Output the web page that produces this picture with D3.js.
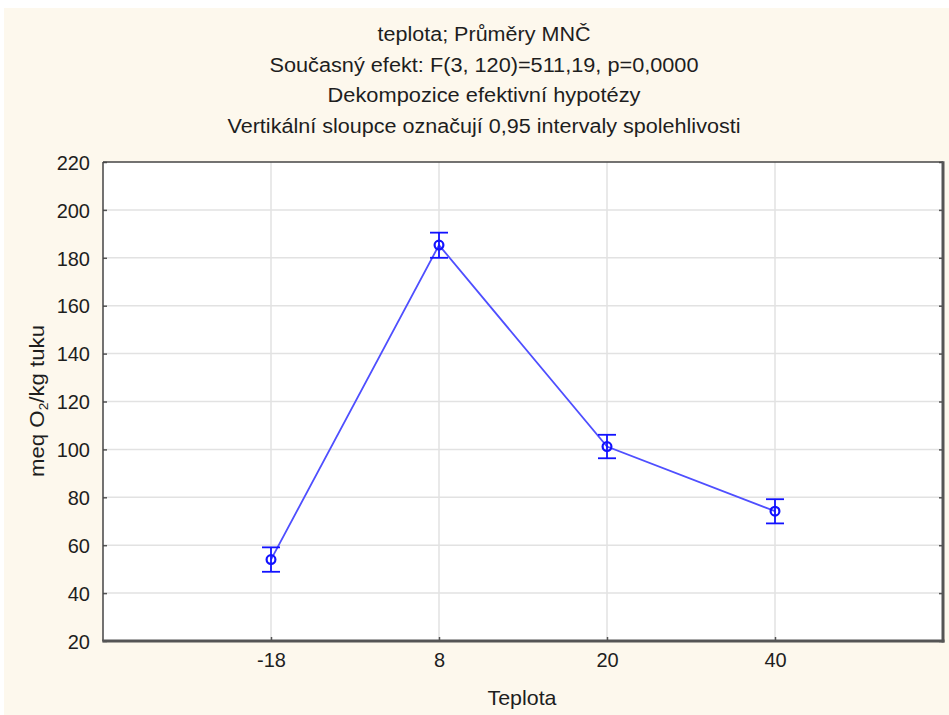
<!DOCTYPE html>
<html>
<head>
<meta charset="utf-8">
<script src="https://cdn.jsdelivr.net/npm/d3@7"></script>
<style>
  html, body { margin: 0; padding: 0; background: #ffffff; }
  svg { display: block; }
  text { font-family: "Liberation Sans", Arial, sans-serif; fill: #1e1e1e; }
</style>
</head>
<body>
<svg id="chart" width="949" height="715"></svg>
<script>
// Temperature groups and least-squares means with 0.95 confidence limits
const categories = ["-18", "8", "20", "40"];
const means = [54.0, 185.3, 101.2, 74.2];
const ciLower = [48.9, 180.0, 96.3, 69.1];
const ciUpper = [59.1, 190.5, 106.1, 79.2];
const yTicks = [20, 40, 60, 80, 100, 120, 140, 160, 180, 200, 220];
const titleLines = [
  "teplota; Průměry MNČ",
  "Současný efekt: F(3, 120)=511,19, p=0,0000",
  "Dekompozice efektivní hypotézy",
  "Vertikální sloupce označují 0,95 intervaly spolehlivosti"
];
// Rendered widths of the title lines (px)
const titleWidths = [213, 429, 313, 513];

const svg = d3.select("#chart");
const W = 949, H = 715;
const plot = { left: 103, top: 162, right: 943, bottom: 641 };

// Cream page background
svg.append("rect").attr("x", 4).attr("y", 8).attr("width", W - 4).attr("height", H - 8)
  .attr("fill", "#fdf8ed");

// Plot area
svg.append("rect").attr("x", plot.left).attr("y", plot.top)
  .attr("width", plot.right - plot.left).attr("height", plot.bottom - plot.top)
  .attr("fill", "#ffffff");

const x = d3.scalePoint().domain(categories).range([plot.left, plot.right]).padding(1);
const y = d3.scaleLinear().domain([20, 220]).range([plot.bottom, plot.top]);

// Grid lines
const grid = svg.append("g").attr("stroke", "#e2e2e2").attr("stroke-width", 1.5);
grid.selectAll("line.h").data(yTicks.slice(1, -1)).join("line")
  .attr("x1", plot.left).attr("x2", plot.right)
  .attr("y1", d => y(d)).attr("y2", d => y(d));
grid.selectAll("line.v").data(categories).join("line")
  .attr("y1", plot.top).attr("y2", plot.bottom)
  .attr("x1", d => x(d)).attr("x2", d => x(d));

// Axes with inward ticks
const yAxisL = svg.append("g").attr("transform", `translate(${plot.left},0)`)
  .call(d3.axisLeft(y).tickValues(yTicks).tickSizeInner(-4).tickSizeOuter(0).tickPadding(13));
const yAxisR = svg.append("g").attr("transform", `translate(${plot.right},0)`)
  .call(d3.axisRight(y).tickValues(yTicks).tickSizeInner(-4).tickSizeOuter(0).tickFormat(""));
const xAxis = svg.append("g").attr("transform", `translate(0,${plot.bottom})`)
  .call(d3.axisBottom(x).tickSizeInner(-4).tickSizeOuter(0).tickPadding(12));

[yAxisL, yAxisR, xAxis].forEach(g => {
  g.select(".domain").remove();
  g.selectAll(".tick line").attr("stroke", "#555").attr("stroke-width", 1.5);
  g.selectAll(".tick text").attr("font-size", 20).attr("fill", "#1e1e1e")
    .attr("font-family", "Liberation Sans, Arial, sans-serif");
});
yAxisL.selectAll(".tick text").attr("dy", "0.36em");

// Frame: thin top/left, heavier right/bottom
const frame = svg.append("g");
frame.append("line").attr("x1", plot.left).attr("x2", plot.right).attr("y1", plot.top).attr("y2", plot.top)
  .attr("stroke", "#444").attr("stroke-width", 1.5);
frame.append("line").attr("x1", plot.left).attr("x2", plot.left).attr("y1", plot.top).attr("y2", plot.bottom)
  .attr("stroke", "#444").attr("stroke-width", 1.5);
frame.append("line").attr("x1", plot.right).attr("x2", plot.right).attr("y1", plot.top - 0.75).attr("y2", plot.bottom + 1.5)
  .attr("stroke", "#555").attr("stroke-width", 3);
frame.append("line").attr("x1", plot.left - 0.75).attr("x2", plot.right + 1.5).attr("y1", plot.bottom).attr("y2", plot.bottom)
  .attr("stroke", "#555").attr("stroke-width", 3);

// Connecting line of means
const pts = categories.map((c, i) => ({ c, m: means[i], lo: ciLower[i], hi: ciUpper[i] }));
svg.append("path").datum(pts)
  .attr("d", d3.line().x(d => x(d.c)).y(d => y(d.m)))
  .attr("fill", "none").attr("stroke", "#4f4fff").attr("stroke-width", 1.8);

// Confidence interval whiskers and caps
const eb = svg.append("g").attr("stroke", "#1212ff").attr("stroke-width", 1.8).attr("fill", "none");
eb.selectAll("line.w").data(pts).join("line")
  .attr("x1", d => x(d.c)).attr("x2", d => x(d.c))
  .attr("y1", d => y(d.lo)).attr("y2", d => y(d.hi));
eb.selectAll("line.top").data(pts).join("line")
  .attr("x1", d => x(d.c) - 9).attr("x2", d => x(d.c) + 9)
  .attr("y1", d => y(d.hi)).attr("y2", d => y(d.hi));
eb.selectAll("line.bot").data(pts).join("line")
  .attr("x1", d => x(d.c) - 9).attr("x2", d => x(d.c) + 9)
  .attr("y1", d => y(d.lo)).attr("y2", d => y(d.lo));

// Mean markers
svg.append("g").selectAll("circle").data(pts).join("circle")
  .attr("cx", d => x(d.c)).attr("cy", d => y(d.m)).attr("r", 4.4)
  .attr("fill", "none").attr("stroke", "#1212ff").attr("stroke-width", 2.2);

// Titles
svg.append("g").selectAll("text").data(titleLines).join("text")
  .attr("x", 484).attr("y", (d, i) => 41 + i * 30.5)
  .attr("text-anchor", "middle").attr("font-size", 20)
  .attr("textLength", (d, i) => titleWidths[i]).attr("lengthAdjust", "spacingAndGlyphs")
  .text(d => d);

// Axis titles
svg.append("text").attr("x", 522).attr("y", 705).attr("text-anchor", "middle")
  .attr("font-size", 21).attr("textLength", 69).attr("lengthAdjust", "spacingAndGlyphs")
  .text("Teplota");

const yl = svg.append("text").attr("transform", "translate(44,401) rotate(-90)")
  .attr("text-anchor", "middle").attr("font-size", 21)
  .attr("textLength", 152).attr("lengthAdjust", "spacingAndGlyphs");
yl.append("tspan").text("meq O");
yl.append("tspan").attr("font-size", 13).attr("dy", 4).text("2");
yl.append("tspan").attr("dy", -4).text("/kg tuku");
</script>
</body>
</html>
